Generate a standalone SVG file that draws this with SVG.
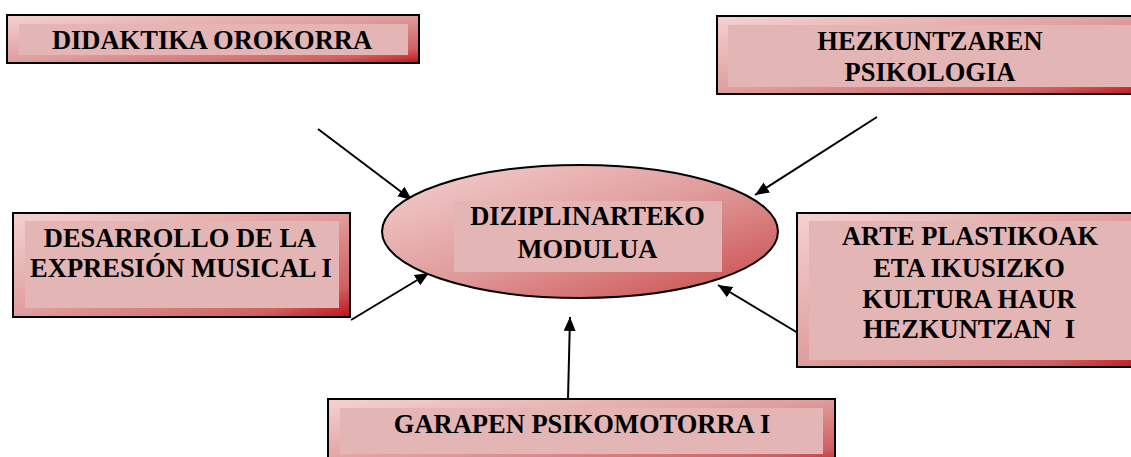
<svg xmlns="http://www.w3.org/2000/svg" width="1131" height="457" viewBox="0 0 1131 457">
<defs>
<linearGradient id="g" x1="0" y1="0" x2="1" y2="1">
<stop offset="0" stop-color="#f5d2d2"/>
<stop offset="0.5" stop-color="#e09c9c"/>
<stop offset="0.85" stop-color="#d06060"/>
<stop offset="1" stop-color="#c0101a"/>
</linearGradient>
<marker id="ah" viewBox="0 0 14 12" refX="14" refY="6" markerWidth="14" markerHeight="12" markerUnits="userSpaceOnUse" orient="auto">
<path d="M0,0 L14,6 L0,12 Z" fill="#000"/>
</marker>
</defs>
<style>
.box{fill:url(#g);stroke:#000;stroke-width:2}
.in{fill:#e4b5b5}
text{font-family:'Liberation Serif','Times New Roman',Tinos,'DejaVu Serif',serif;font-weight:bold;font-size:26.5px;fill:#000;text-anchor:middle}
.c{stroke:#000;stroke-width:2;fill:none;marker-end:url(#ah)}
</style>
<rect width="1131" height="457" fill="#fff"/>
<g id="connectors">
<line class="c" x1="318" y1="129" x2="412" y2="200"/>
<line class="c" x1="877" y1="117" x2="755" y2="195"/>
<line class="c" x1="351" y1="320" x2="429" y2="273"/>
<line class="c" x1="798" y1="333" x2="718" y2="285"/>
<line class="c" x1="568" y1="399" x2="570" y2="317"/>
</g>
<g font-family="Liberation Serif, serif">
<g id="didaktika">
<rect class="box" x="7" y="15" width="412" height="48"/>
<rect class="in" x="19" y="24" width="389" height="31"/>
<text x="212" y="49">DIDAKTIKA OROKORRA</text>
</g>
<g id="hezkuntzaren">
<rect class="box" x="717" y="16" width="430" height="78"/>
<rect class="in" x="728" y="25" width="420" height="62"/>
<text x="930" y="50">HEZKUNTZAREN</text>
<text x="930" y="81">PSIKOLOGIA</text>
</g>
<g id="desarrollo">
<rect class="box" x="13" y="213" width="337" height="104"/>
<rect class="in" x="25" y="221" width="314" height="87"/>
<text x="180" y="247">DESARROLLO DE LA</text>
<text x="181" y="277">EXPRESIÓN MUSICAL I</text>
</g>
<g id="modulua">
<ellipse cx="580" cy="231.5" rx="198" ry="66.5" fill="url(#g)" stroke="#000" stroke-width="2"/>
<rect class="in" x="454" y="201" width="268" height="71"/>
<text x="587.5" y="225">DIZIPLINARTEKO</text>
<text x="587.5" y="258">MODULUA</text>
</g>
<g id="arte">
<rect class="box" x="797" y="213" width="350" height="154"/>
<rect class="in" x="809" y="221" width="340" height="139"/>
<text x="970" y="245">ARTE PLASTIKOAK</text>
<text x="969" y="277">ETA IKUSIZKO</text>
<text x="969" y="308">KULTURA HAUR</text>
<text x="969" y="338">HEZKUNTZAN&#160; I</text>
</g>
<g id="garapen">
<rect class="box" x="328" y="399" width="507" height="70"/>
<rect class="in" x="340" y="408" width="483" height="46"/>
<text x="582" y="433">GARAPEN PSIKOMOTORRA I</text>
</g>
</g>
</svg>
